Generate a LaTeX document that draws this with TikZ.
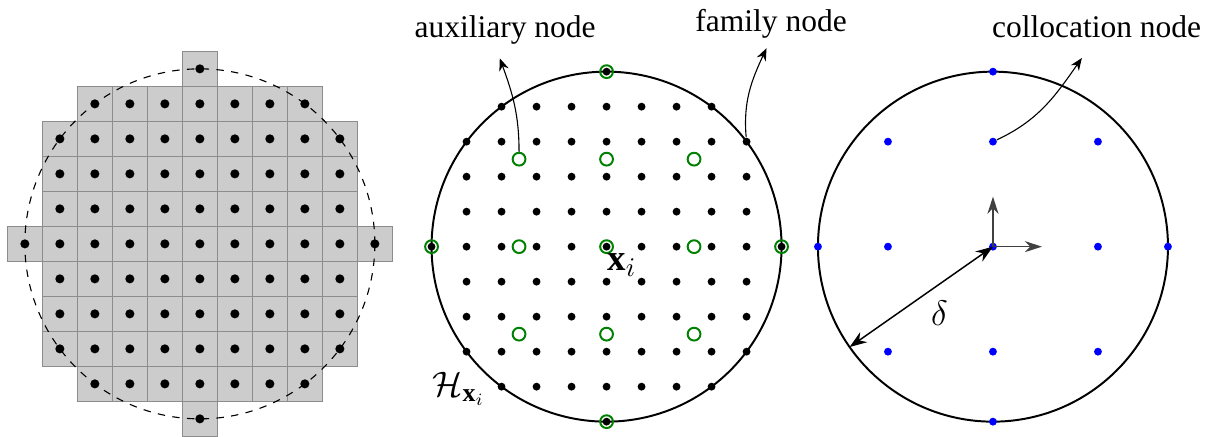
\documentclass[tikz,border=0pt]{standalone}
\usepackage{amsmath}
\usepackage{fontspec}
\setmainfont{Liberation Serif}
\usepackage{tikz}
\usetikzlibrary{arrows.meta, positioning, calc}
\tikzset{
  cell/.style={draw=black!45, fill=black!20, line width=0.5pt},
  gdot/.style={circle, fill=black, inner sep=0pt, minimum size=3.7pt},
  fdot/.style={circle, fill=black, inner sep=0pt, minimum size=3.2pt},
  cdot/.style={circle, fill=blue, inner sep=0pt, minimum size=3.2pt},
  auxring/.style={circle, draw=green!50!black, line width=0.8pt,
    inner sep=0pt, minimum size=5.2pt},
  disk/.style={draw=black, line width=0.8pt},
  pointer/.style={-{Stealth[length=5pt,width=4pt]}, line width=0.45pt},
  dimarrow/.style={{Stealth[length=7pt,width=5pt]}-{Stealth[length=7pt,width=5pt]},
    line width=0.6pt},
  axisarrow/.style={-{Stealth[length=7pt,width=4.5pt]}, line width=0.5pt,
    draw=black!75},
  lbl/.style={font=\fontsize{12.8}{15}\selectfont, anchor=base, inner sep=0pt},
  mlbl/.style={font=\fontsize{15}{17}\selectfont, inner sep=0pt}
}

\begin{document}
\begin{tikzpicture}[x=0.5cm, y=0.5cm]
  \useasboundingbox (0,0) rectangle (34.714,12.457);

  % grid cells
  \begin{scope}[shift={(5.71,5.49)}]
    \foreach \i in {-5,...,5}
      \foreach \j in {-5,...,5}{
        \ifnum\numexpr\i*\i+\j*\j\relax<26
          \filldraw[cell] (\i-0.5,\j-0.5) rectangle ++(1,1);
        \fi
      }
    \draw[dashed, line width=0.45pt] (0,0) circle (5);
    \foreach \i in {-5,...,5}
      \foreach \j in {-5,...,5}{
        \ifnum\numexpr\i*\i+\j*\j\relax<26
          \node[gdot] (g\i\j) at (\i,\j) {};
        \fi
      }
  \end{scope}

  % family and auxiliary nodes
  \begin{scope}[shift={(17.33,5.41)}]
    \draw[disk] (0,0) circle (5);
    \foreach \i in {-5,...,5}
      \foreach \j in {-5,...,5}{
        \ifnum\numexpr\i*\i+\j*\j\relax<26
          \node[fdot] (f\i\j) at (\i,\j) {};
        \fi
      }
    \foreach \i in {-1,0,1}
      \foreach \j in {-1,0,1}
        \node[auxring] (a\i\j) at (2.5*\i,2.5*\j) {};
    \foreach \x/\y/\n in {5/0/e,-5/0/w,0/5/n,0/-5/s}
      \node[auxring] (a\n) at (\x,\y) {};
    \coordinate (auxtip) at (-3.05,5.38);
    \coordinate (famtip) at (4.57,5.67);
    \draw[pointer] (a-11.north) to[out=90, in=-70] (auxtip);
    \draw[pointer] (f43) to[out=95, in=-115] (famtip);
  \end{scope}

  \node[mlbl] (xi) at (17.77,4.886) {$\mathbf{x}_i$};
  \node[mlbl] (hx) at (13.11,1.343) {$\mathcal{H}_{\mathbf{x}_i}$};

  % collocation nodes
  \begin{scope}[shift={(28.37,5.41)}]
    \draw[disk] (0,0) circle (5);
    \foreach \i in {-3,0,3}
      \foreach \j in {-3,0,3}
        \node[cdot] (c\i\j) at (\i,\j) {};
    \foreach \x/\y/\n in {5/0/e,-5/0/w,0/5/n,0/-5/s}
      \node[cdot] (c\n) at (\x,\y) {};
    \coordinate (ex) at (1.4,0);
    \coordinate (ey) at (0,1.43);
    \draw[axisarrow] (c00.center) -- (ex);
    \draw[axisarrow] (c00.center) -- (ey);
    \coordinate (edge) at (215:5);
    \draw[dimarrow] (edge) -- (c00.center);
    \coordinate (colltip) at (2.54,5.39);
    \draw[pointer] (c03) to[out=25, in=-125] (colltip);
  \end{scope}

  \node[mlbl] (delta) at (26.84,3.506) {$\delta$};

  \node[lbl] (auxlbl) at (14.43,11.39) {auxiliary node};
  \node[lbl] (famlbl) at (22.03,11.55) {family node};
  \node[lbl] (colllbl) at (31.33,11.38) {collocation node};
\end{tikzpicture}
\end{document}
